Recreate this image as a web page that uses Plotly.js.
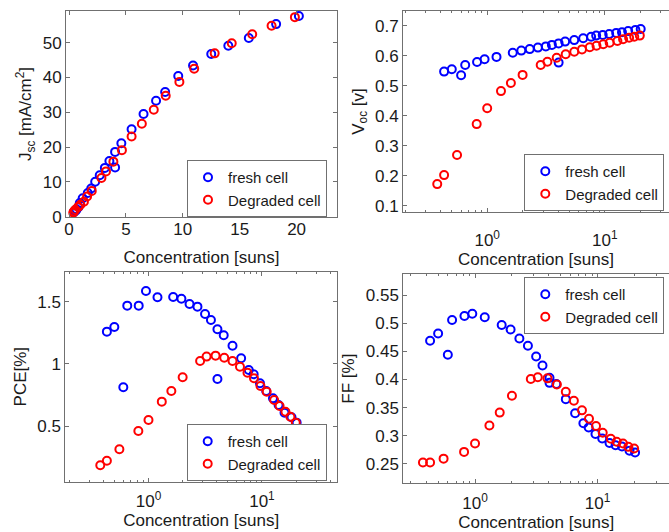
<!DOCTYPE html>
<html>
<head>
<meta charset="utf-8">
<script src="https://cdn.plot.ly/plotly-3.0.1.min.js"></script>
<style>html,body{margin:0;padding:0;background:#fff;}#chart{width:669px;height:532px;}</style>
</head>
<body>
<div id="chart"></div>
<script>
// ---- data ----
var freshConc = [0.43, 0.50, 0.60, 0.65, 0.82, 0.95, 1.2, 1.65, 1.95, 2.3, 2.7, 3.15, 3.55, 4.05, 4.05, 4.6, 5.5, 6.55, 7.65, 8.45, 9.6, 10.9, 12.5, 14.0, 15.8, 18.2, 20.2];
var freshJsc  = [1.3, 1.6, 1.8, 2.1, 2.7, 3.9, 5.3, 6.8, 8.1, 10.0, 11.9, 14.0, 16.0, 18.6, 14.1, 21.1, 25.1, 29.5, 33.3, 35.8, 40.4, 43.4, 46.7, 49.1, 51.3, 55.3, 57.6];
var freshVoc  = [0.547, 0.555, 0.535, 0.569, 0.579, 0.588, 0.596, 0.610, 0.617, 0.622, 0.627, 0.631, 0.636, 0.641, 0.577, 0.647, 0.652, 0.658, 0.663, 0.667, 0.669, 0.672, 0.676, 0.678, 0.682, 0.686, 0.689];
var freshPCE  = [1.259, 1.296, 0.811, 1.468, 1.468, 1.586, 1.535, 1.538, 1.524, 1.481, 1.460, 1.401, 1.353, 1.278, 0.878, 1.230, 1.146, 1.045, 0.951, 0.916, 0.844, 0.782, 0.723, 0.669, 0.607, 0.570, 0.527];
var freshFF   = [0.469, 0.482, 0.444, 0.506, 0.513, 0.517, 0.511, 0.497, 0.489, 0.473, 0.460, 0.441, 0.425, 0.403, 0.394, 0.392, 0.365, 0.340, 0.322, 0.3145, 0.303, 0.295, 0.287, 0.283, 0.2806, 0.273, 0.270];

var degConc = [0.376, 0.43, 0.554, 0.814, 1.0, 1.31, 1.59, 2.0, 2.85, 3.25, 3.9, 4.65, 5.5, 6.4, 7.45, 8.5, 9.7, 11.0, 12.8, 14.3, 16.1, 17.8, 19.85];
var degJsc  = [1.1, 1.5, 2.0, 2.8, 3.4, 4.3, 5.8, 7.4, 11.1, 13.0, 15.8, 19.1, 23.0, 26.7, 30.7, 34.7, 38.7, 42.5, 46.9, 49.8, 52.4, 54.8, 57.3];
var degVoc  = [0.172, 0.202, 0.269, 0.372, 0.425, 0.482, 0.509, 0.536, 0.569, 0.580, 0.593, 0.605, 0.613, 0.621, 0.628, 0.633, 0.638, 0.643, 0.649, 0.655, 0.660, 0.663, 0.667];
var degPCE  = [0.184, 0.221, 0.313, 0.460, 0.548, 0.696, 0.782, 0.892, 1.023, 1.058, 1.066, 1.049, 1.023, 0.977, 0.929, 0.884, 0.822, 0.776, 0.709, 0.661, 0.615, 0.575, 0.527];
var degFF   = [0.252, 0.252, 0.259, 0.271, 0.286, 0.318, 0.341, 0.371, 0.401, 0.404, 0.402, 0.391, 0.378, 0.362, 0.345, 0.330, 0.317, 0.305, 0.2945, 0.289, 0.286, 0.280, 0.277];

var seriesNames = ["fresh cell", "Degraded cell"];
var xTitle = "Concentration [suns]";
var yTitles = ["J<sub>sc</sub> [mA/cm<sup>2</sup>]", "V<sub>oc</sub> [v]", "PCE[%]", "FF [%]"];

var linTickVals = [0, 5, 10, 15, 20];
var jscTickVals = [0, 10, 20, 30, 40, 50];
var logTickVals = [1, 10];
var logTickText = ["10<sup>0</sup>", "10<sup>1</sup>"];
var vocTickVals = [0.1, 0.2, 0.3, 0.4, 0.5, 0.6, 0.7];
var vocTickText = ["0.1", "0.2", "0.3", "0.4", "0.5", "0.6", "0.7"];
var pceTickVals = [0.5, 1, 1.5];
var pceTickText = ["0.5", "1", "1.5"];
var ffTickVals = [0.25, 0.3, 0.35, 0.4, 0.45, 0.5, 0.55];
var ffTickText = ["0.25", "0.3", "0.35", "0.4", "0.45", "0.5", "0.55"];
var minorLogVals = [0.2, 0.3, 0.4, 0.5, 0.6, 0.7, 0.8, 0.9, 2, 3, 4, 5, 6, 7, 8, 9, 20, 30, 40];

// ---- styling ----
var FONT = "Liberation Sans, Arial, sans-serif";
var TXT = "#1a1a1a";
var LINE = "#707070";
var W = 669, H = 532;
function dx(a, b) { return [a / W, b / W]; }
function dy(top, bottom) { return [1 - bottom / H, 1 - top / H]; }

var blue = "#0000ff", red = "#ff0000";
function mk(c) { return {symbol: "circle-open", size: 8, color: c, line: {width: 2, color: c}}; }

var traces = [];
var panels = [
  {xa: "x", ya: "y", lg: "legend", xs: [freshConc, degConc], ys: [freshJsc, degJsc]},
  {xa: "x2", ya: "y2", lg: "legend2", xs: [freshConc, degConc], ys: [freshVoc, degVoc]},
  {xa: "x3", ya: "y3", lg: "legend3", xs: [freshConc, degConc], ys: [freshPCE, degPCE]},
  {xa: "x4", ya: "y4", lg: "legend4", xs: [freshConc, degConc], ys: [freshFF, degFF]}
];
panels.forEach(function (p) {
  [blue, red].forEach(function (c, k) {
    traces.push({
      type: "scatter", mode: "markers", name: seriesNames[k],
      x: p.xs[k], y: p.ys[k], xaxis: p.xa, yaxis: p.ya, legend: p.lg,
      marker: mk(c), cliponaxis: false, hoverinfo: "skip"
    });
  });
});

function axBase(extra) {
  var a = {
    showgrid: false, zeroline: false, showline: true, linecolor: LINE, linewidth: 1,
    mirror: "ticks", ticks: "inside", ticklen: 4, tickcolor: LINE, tickwidth: 1,
    tickfont: {family: FONT, size: 17, color: TXT}, automargin: false,
    tickmode: "array"
  };
  for (var k in extra) a[k] = extra[k];
  return a;
}
function xt(standoff) { return {text: xTitle, font: {family: FONT, size: 17, color: TXT}, standoff: standoff}; }
function yt(i, standoff) { return {text: yTitles[i], font: {family: FONT, size: 17, color: TXT}, standoff: standoff}; }
function minor(vals) { return {tickmode: "array", tickvals: vals, ticks: "inside", ticklen: 2, tickcolor: LINE, tickwidth: 1}; }

function legendAt(x, y) {
  return {x: x / W, y: 1 - y / H, xanchor: "left", yanchor: "top", bgcolor: "#ffffff",
    bordercolor: LINE, borderwidth: 1, font: {family: FONT, size: 15, color: TXT},
    tracegroupgap: 0, itemwidth: 30};
}

var layout = {
  width: W, height: H, paper_bgcolor: "#ffffff", plot_bgcolor: "#ffffff",
  margin: {l: 0, r: 0, t: 0, b: 0, autoexpand: false},
  showlegend: true, font: {family: FONT, color: TXT},
  xaxis: axBase({domain: dx(66, 337), range: [-0.264, 23.55], tickvals: linTickVals, anchor: "y", ticklabelstandoff: -3, title: xt(12)}),
  yaxis: axBase({domain: dy(11, 217), range: [-0.1, 59.06], tickvals: jscTickVals, anchor: "x", title: yt(0, 6)}),
  xaxis2: axBase({type: "log", domain: dx(403, 669), range: [-0.716, 1.546], tickvals: logTickVals, ticktext: logTickText, anchor: "y2", ticklabelstandoff: 13, title: xt(3), minor: minor(minorLogVals)}),
  yaxis2: axBase({domain: dy(11, 212), range: [0.079, 0.749], tickvals: vocTickVals, ticktext: vocTickText, anchor: "x2", mirror: false, title: yt(1, 6)}),
  xaxis3: axBase({type: "log", domain: dx(65.3, 337), range: [-0.733, 1.661], tickvals: logTickVals, ticktext: logTickText, anchor: "y3", ticklabelstandoff: 4, title: xt(0), minor: minor(minorLogVals)}),
  yaxis3: axBase({domain: dy(271.7, 481.7), range: [0.052, 1.741], tickvals: pceTickVals, ticktext: pceTickText, anchor: "x3", title: yt(2, 6)}),
  xaxis4: axBase({type: "log", domain: dx(403.3, 669), range: [-0.585, 1.582], tickvals: logTickVals, ticktext: logTickText, anchor: "y4", ticklabelstandoff: 5, title: xt(0), minor: minor(minorLogVals)}),
  yaxis4: axBase({domain: dy(274.3, 483), range: [0.2156, 0.5874], tickvals: ffTickVals, ticktext: ffTickText, anchor: "x4", mirror: false, title: yt(3, 6)}),
  legend: legendAt(187, 160),
  legend2: legendAt(524.3, 154),
  legend3: legendAt(186.7, 424),
  legend4: legendAt(524.3, 277)
};

Plotly.newPlot("chart", traces, layout, {staticPlot: true, displayModeBar: false});
</script>
</body>
</html>
